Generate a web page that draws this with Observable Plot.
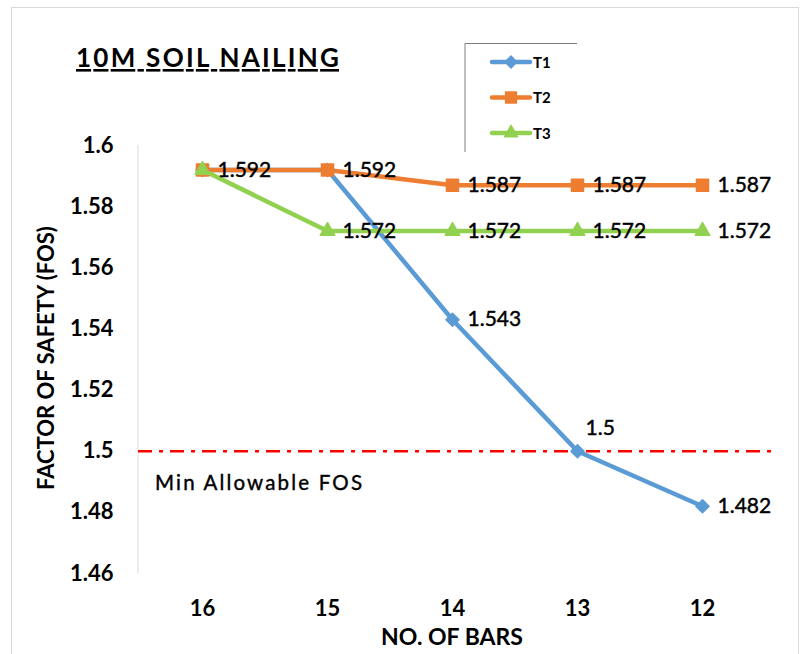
<!DOCTYPE html>
<html><head><meta charset="utf-8">
<script src="https://cdn.jsdelivr.net/npm/d3@7"></script>
<script src="https://cdn.jsdelivr.net/npm/@observablehq/plot@0.6"></script>
<style>
html,body{margin:0;padding:0;background:#fff;}
#wrap{position:relative;width:801px;height:654px;overflow:hidden;}
#frame{position:absolute;left:11px;top:7px;width:788px;height:650px;border:1px solid #d9d9d9;box-sizing:border-box;pointer-events:none;}
</style></head>
<body><div id="wrap"><div id="frame"></div></div>
<script>
const title = "10M SOIL NAILING";
const xTitle = "NO. OF BARS";
const yTitle = "FACTOR OF SAFETY (FOS)";
const bars = ["16", "15", "14", "13", "12"];
const seriesNames = ["T1", "T2", "T3"];
const T1 = [1.592, 1.592, 1.543, 1.5, 1.482];
const T2 = [1.592, 1.592, 1.587, 1.587, 1.587];
const T3 = [1.592, 1.572, 1.572, 1.572, 1.572];
const colors = ["#5b9bd5", "#ed7d31", "#92d050"];
const yTicks = [1.46, 1.48, 1.5, 1.52, 1.54, 1.56, 1.58, 1.6];
const minFOS = 1.5;
const minFOSLabel = "Min Allowable FOS";
// which data labels are visible (index into bars)
const T1Labels = [2, 4];
const T1LabelsAbove = [3];
const T2Labels = [0, 1, 2, 3, 4];
const T3Labels = [1, 2, 3, 4];

const FONT = "Lato, 'Open Sans', sans-serif";
const symbols = [d3.symbolDiamond2, d3.symbolSquare, d3.symbolTriangle];
const radii = [5.9, 6.8, 5.4];
const allSeries = [T1, T2, T3];

const rows = [];
allSeries.forEach((vals, s) => vals.forEach((v, i) => rows.push({series: seriesNames[s], bar: bars[i], v})));
const lab = (vals, idx, s) => idx.map(i => ({series: seriesNames[s], bar: bars[i], v: vals[i], t: String(vals[i])}));
const rightLabels = [...lab(T1, T1Labels, 0), ...lab(T2, T2Labels, 1), ...lab(T3, T3Labels, 2)];
const aboveLabels = lab(T1, T1LabelsAbove, 0);

const marks = [
  Plot.axisY({ticks: yTicks, tickSize: 0, tickPadding: 25, tickFormat: d => String(+d.toFixed(2)), fontSize: 22, fontWeight: "bold", label: null}),
  Plot.axisX({tickSize: 0, tickPadding: 27, fontSize: 22, fontWeight: "bold", label: null}),
  Plot.ruleY([minFOS], {stroke: "#ff0000", strokeWidth: 2.5, strokeDasharray: "14,7,4,7"}),
];
allSeries.forEach((vals, s) => {
  const d = rows.filter(r => r.series === seriesNames[s]);
  marks.push(Plot.line(d, {x: "bar", y: "v", stroke: colors[s], strokeWidth: 4.5, strokeLinejoin: "round"}));
});
allSeries.forEach((vals, s) => {
  const d = rows.filter(r => r.series === seriesNames[s]);
  marks.push(Plot.dot(d, {x: "bar", y: "v", symbol: () => symbols[s], r: radii[s], fill: colors[s], stroke: colors[s], strokeWidth: 1.5, strokeLinejoin: "round"}));
});
const labelStyle = {text: "t", textAnchor: "start", fontSize: 21, fill: "#000", stroke: "#000", strokeWidth: 0.45};
marks.push(Plot.text(rightLabels, {x: "bar", y: "v", dx: 15, ...labelStyle}));
marks.push(Plot.text(aboveLabels, {x: "bar", y: "v", dx: 8, dy: -23, ...labelStyle}));

const chart = Plot.plot({
  width: 801, height: 654,
  marginLeft: 138, marginRight: 24, marginTop: 145, marginBottom: 81,
  style: {fontFamily: FONT, color: "#000", background: "transparent"},
  x: {type: "point", domain: bars, padding: 0.5, insetRight: 10.5},
  y: {domain: [1.46, 1.6]},
  marks
});
chart.style.position = "absolute";
chart.style.left = "0px";
chart.style.top = "0px";
document.getElementById("wrap").appendChild(chart);

const svg = d3.select(chart);
const ys = chart.scale("y");
// y axis line
svg.insert("line", ":first-child").attr("x1", 138).attr("x2", 138)
  .attr("y1", ys.apply(1.6)).attr("y2", ys.apply(1.46)).attr("stroke", "#d9d9d9").attr("stroke-width", 1);
const txt = (x, y, s, size, weight, anchor) => svg.append("text").attr("x", x).attr("y", y)
  .attr("font-family", FONT).attr("font-size", size).attr("font-weight", weight)
  .attr("text-anchor", anchor).attr("fill", "#000").text(s);
// title
txt(76, 67, title, 26, "bold", "start").attr("textLength", 263).attr("lengthAdjust", "spacing")
  .style("text-decoration", "underline");
// axis titles
txt(452, 645, xTitle, 23, "bold", "middle");
svg.append("text").attr("transform", "translate(54,358) rotate(-90)").attr("text-anchor", "middle")
  .attr("font-family", FONT).attr("font-size", 22).attr("font-weight", "bold").attr("fill", "#000").text(yTitle);
// min allowable label
txt(155, 490, minFOSLabel, 20.5, "normal", "start").attr("textLength", 207).attr("lengthAdjust", "spacing")
  .attr("stroke", "#000").attr("stroke-width", 0.4);
// legend
const lg = svg.append("g");
lg.append("path").attr("d", "M465,152V43.5H577").attr("fill", "none").attr("stroke", "#7f7f7f").attr("stroke-width", 1);
seriesNames.forEach((n, s) => {
  const y = 62 + s * 35.5;
  lg.append("line").attr("x1", 492).attr("x2", 530).attr("y1", y).attr("y2", y).attr("stroke", colors[s]).attr("stroke-width", 4.5).attr("stroke-linecap", "round");
  lg.append("path").attr("transform", `translate(511,${y})`).attr("d", d3.symbol(symbols[s], Math.PI * radii[s] * radii[s] * 0.8)())
    .attr("fill", colors[s]).attr("stroke", colors[s]).attr("stroke-width", 1.5).attr("stroke-linejoin", "round");
  lg.append("text").attr("x", 533).attr("y", y + 5.5).attr("font-family", FONT).attr("font-size", 15)
    .attr("font-weight", "bold").attr("text-anchor", "start").attr("fill", "#000").text(n);
});
</script>
</body></html>
